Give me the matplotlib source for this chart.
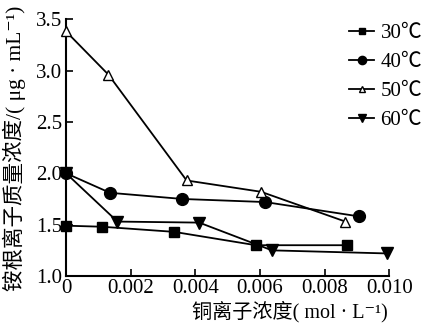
import matplotlib
matplotlib.use('Agg')
import matplotlib.pyplot as plt

plt.rcParams['font.family'] = ['Liberation Serif', 'Noto Sans CJK SC', 'DejaVu Serif']

# copper ion concentration (mol/L) and NH4+ concentration (ug/mL)
x30 = [0, 0.00111, 0.00334, 0.00587, 0.00869]
y30 = [1.49, 1.48, 1.43, 1.30, 1.30]
x40 = [0, 0.00136, 0.0036, 0.00616, 0.00907]
y40 = [2.00, 1.81, 1.75, 1.72, 1.58]
x50 = [0, 0.00131, 0.00373, 0.00603, 0.00864]
y50 = [3.38, 2.96, 1.93, 1.82, 1.53]
x60 = [0, 0.00159, 0.00412, 0.00637, 0.00992]
y60 = [2.00, 1.53, 1.52, 1.25, 1.22]
labels = ['30℃', '40℃', '50℃', '60℃']

fig = plt.figure(figsize=(4.26, 3.24), dpi=100)
ax = fig.add_axes([0.155, 0.148, 0.759, 0.793])

kw = dict(color='black', lw=1.3, ms=7, clip_on=False, zorder=3)
l1, = ax.plot(x30, y30, marker='s', **kw)
l2, = ax.plot(x40, y40, marker='o', **{**kw, 'ms': 8.5})
l3, = ax.plot(x50, y50, marker='^', mfc='white', **kw)
l4, = ax.plot(x60, y60, marker='v', **{**kw, 'ms': 8})

ax.set_xlim(0, 0.010)
ax.set_ylim(1.0, 3.5)
ax.set_xticks([0, 0.002, 0.004, 0.006, 0.008, 0.010])
ax.set_xticklabels(['0', '0.002', '0.004', '0.006', '0.008', '0.010'])
ax.set_yticks([1.0, 1.5, 2.0, 2.5, 3.0, 3.5])
ax.set_yticklabels(['1.0', '1.5', '2.0', '2.5', '3.0', '3.5'])
ax.tick_params(direction='in', length=5, width=1.2, labelsize=15)
ax.tick_params(axis='x', pad=2)
ax.tick_params(axis='y', pad=3)
ax.spines['top'].set_visible(False)
ax.spines['right'].set_visible(False)
for s in ['left', 'bottom']:
    ax.spines[s].set_linewidth(1.5)

fig.text(290 / 426, 1 - 312 / 324, '铜离子浓度( mol · L⁻¹)', fontsize=14.5,
         ha='center', va='center')
fig.text(14 / 426, 1 - 148 / 324, '铵根离子质量浓度/( μg · mL⁻¹)', fontsize=15.5,
         ha='center', va='center', rotation=90)

leg = fig.legend([l1, l2, l3, l4], labels, loc='upper left',
                 bbox_to_anchor=(0.776, 0.985), frameon=False, fontsize=15,
                 handlelength=1.2, handletextpad=0.3, labelspacing=0.45,
                 markerscale=0.7)

fig.savefig('out.png', dpi=100)
